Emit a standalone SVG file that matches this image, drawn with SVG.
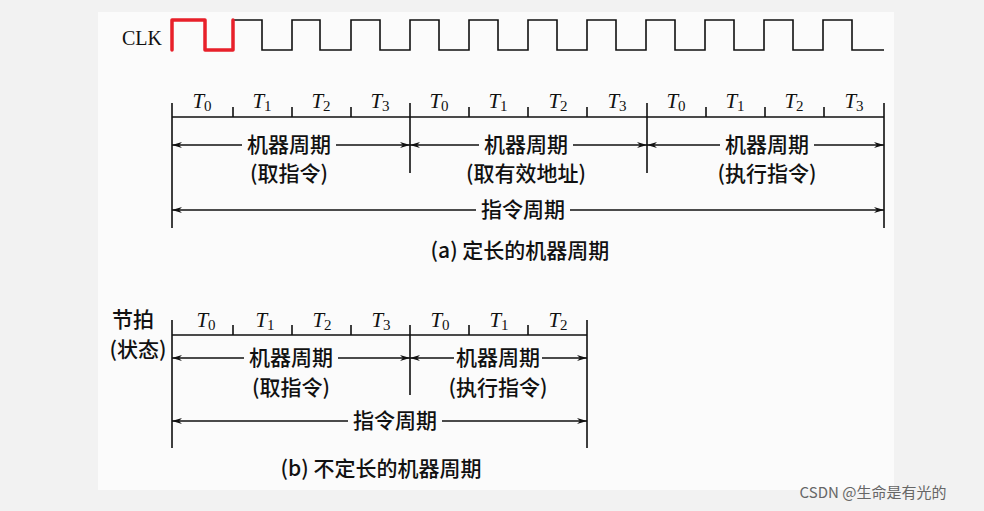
<svg xmlns="http://www.w3.org/2000/svg" width="984" height="511" viewBox="0 0 984 511">
<defs>
<marker id="ar" viewBox="0 0 10 6" refX="10" refY="3" markerWidth="10" markerHeight="6" orient="auto-start-reverse" markerUnits="userSpaceOnUse"><path d="M0,0 L10,3 L0,6 L3,3 Z" fill="#111"/></marker>
<style>
.l{stroke:#111;stroke-width:1.6;fill:none}
.a{stroke:#111;stroke-width:1.4;fill:none;marker-end:url(#ar)}
.t{font-family:"Liberation Serif",serif;font-size:20px;fill:#111;text-anchor:middle}
.c{font-family:"Noto Sans CJK SC","Liberation Serif",sans-serif;font-size:21px;font-weight:500;fill:#111;text-anchor:middle}
.T{font-family:"Liberation Serif",serif;font-size:21px;font-style:italic;fill:#111;text-anchor:middle}
.s{font-style:normal;font-size:15px}
</style>
</defs>
<rect width="984" height="511" fill="#f2f2f2"/>
<rect x="98" y="12" width="796" height="478" fill="#fbfbfb"/>
<g id="clk">
<text x="142" y="45" class="t">CLK</text>
<path class="l" d="M233,50 V20 H262 V50 H292 V20 H320 V50 H351 V20 H380 V50 H410 V20 H439 V50 H469 V20 H498 V50 H528 V20 H557 V50 H587 V20 H616 V50 H646 V20 H675 V50 H705 V20 H734 V50 H764 V20 H793 V50 H823 V20 H852 V50 H884"/>
<path d="M172,50 V20 H205 V50 H233 V20" stroke="#e8202a" stroke-width="3.5" fill="none" stroke-linejoin="round" stroke-linecap="round"/>
</g>
<g id="connectors">
<path class="l" d="M172,117 H884 M172,103 V228 M884,103 V228 M410,103 V173 M647,103 V173 M233,107 V117 M292,107 V117 M351,107 V117 M469,107 V117 M528,107 V117 M587,107 V117 M706,107 V117 M765,107 V117 M824,107 V117"/>
<path class="a" d="M242,145 H172"/><path class="a" d="M336,145 H410"/>
<path class="a" d="M479,145 H410"/><path class="a" d="M573,145 H647"/>
<path class="a" d="M720,145 H647"/><path class="a" d="M814,145 H884"/>
<path class="a" d="M476,210 H172"/><path class="a" d="M570,210 H884"/>
<path class="l" d="M172,335 H587 M172,320 V448 M587,320 V448 M410,325 V395 M233,325 V335 M292,325 V335 M351,325 V335 M469,325 V335 M528,325 V335"/>
<path class="a" d="M244,358 H172"/><path class="a" d="M338,358 H410"/>
<path class="a" d="M454,358 H410"/><path class="a" d="M542,358 H587"/>
<path class="a" d="M348,421 H172"/><path class="a" d="M442,421 H587"/>
</g>
<g id="labels-a">
<text x="202" y="108" class="T">T<tspan class="s" dy="3">0</tspan></text>
<text x="262" y="108" class="T">T<tspan class="s" dy="3">1</tspan></text>
<text x="321" y="108" class="T">T<tspan class="s" dy="3">2</tspan></text>
<text x="380" y="108" class="T">T<tspan class="s" dy="3">3</tspan></text>
<text x="439" y="108" class="T">T<tspan class="s" dy="3">0</tspan></text>
<text x="498" y="108" class="T">T<tspan class="s" dy="3">1</tspan></text>
<text x="558" y="108" class="T">T<tspan class="s" dy="3">2</tspan></text>
<text x="617" y="108" class="T">T<tspan class="s" dy="3">3</tspan></text>
<text x="676" y="108" class="T">T<tspan class="s" dy="3">0</tspan></text>
<text x="735" y="108" class="T">T<tspan class="s" dy="3">1</tspan></text>
<text x="794" y="108" class="T">T<tspan class="s" dy="3">2</tspan></text>
<text x="854" y="108" class="T">T<tspan class="s" dy="3">3</tspan></text>
<text x="289" y="152" class="c">机器周期</text>
<text x="289" y="181" class="c">(取指令)</text>
<text x="526" y="152" class="c">机器周期</text>
<text x="526" y="181" class="c">(取有效地址)</text>
<text x="767" y="152" class="c">机器周期</text>
<text x="767" y="181" class="c">(执行指令)</text>
<text x="523" y="217" class="c">指令周期</text>
<text x="520" y="258" class="c">(a) 定长的机器周期</text>
</g>
<g id="labels-b">
<text x="133" y="327" class="c">节拍</text>
<text x="138" y="357" class="c">(状态)</text>
<text x="206" y="327" class="T">T<tspan class="s" dy="3">0</tspan></text>
<text x="265" y="327" class="T">T<tspan class="s" dy="3">1</tspan></text>
<text x="322" y="327" class="T">T<tspan class="s" dy="3">2</tspan></text>
<text x="381" y="327" class="T">T<tspan class="s" dy="3">3</tspan></text>
<text x="440" y="327" class="T">T<tspan class="s" dy="3">0</tspan></text>
<text x="499" y="327" class="T">T<tspan class="s" dy="3">1</tspan></text>
<text x="558" y="327" class="T">T<tspan class="s" dy="3">2</tspan></text>
<text x="291" y="365" class="c">机器周期</text>
<text x="291" y="395" class="c">(取指令)</text>
<text x="498" y="365" class="c">机器周期</text>
<text x="498" y="395" class="c">(执行指令)</text>
<text x="395" y="428" class="c">指令周期</text>
<text x="381" y="476" class="c">(b) 不定长的机器周期</text>
</g>
<text x="873" y="498" font-family="'Noto Sans CJK SC',sans-serif" font-size="15" fill="#666" text-anchor="middle">CSDN @生命是有光的</text>
</svg>
